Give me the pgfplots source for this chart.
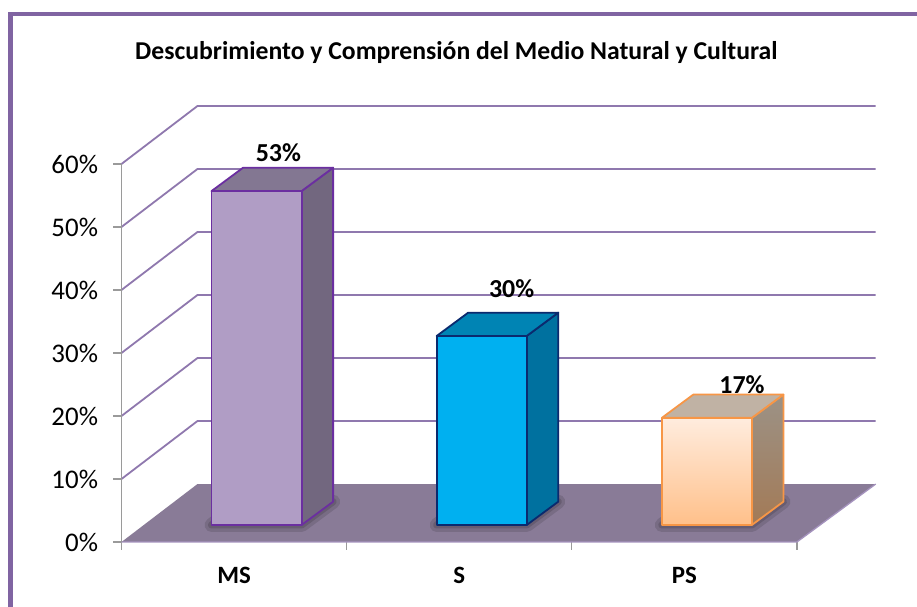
\documentclass[border=0pt]{standalone}
\usepackage{fontspec}
\setmainfont{Carlito}
\usepackage{pgfplots}
\pgfplotsset{compat=1.18}

\definecolor{wall}{HTML}{8F78AE}
\definecolor{floorc}{HTML}{897B97}
\definecolor{frame}{HTML}{8064A2}
\definecolor{axisgray}{HTML}{9A9A9A}
\definecolor{edgem}{HTML}{6B2FA0}
\definecolor{edges}{HTML}{0B2A6E}
\definecolor{edgep}{HTML}{F79646}

% center x, value, edge, front style, side style, top style
\newcommand{\threedbar}[6]{%
  \pgfmathsetmacro\xa{#1-0.2}%
  \pgfmathsetmacro\xb{#1+0.2}%
  \pgfmathsetmacro\xc{#1+0.2+0.14}%
  \pgfmathsetmacro\xd{#1-0.2+0.14}%
  \pgfmathsetmacro\yb{2.7}%
  \pgfmathsetmacro\ybb{2.7+3.7}%
  \pgfmathsetmacro\yt{2.7+#2}%
  \pgfmathsetmacro\ytt{2.7+#2+3.7}%
  \edef\tmp{%
    \noexpand\addplot[draw=black, opacity=0.12, line width=14bp, line join=round] coordinates {(\xa,\yb) (\xb,\yb) (\xc,\ybb) (\xd,\ybb)} --cycle;
    \noexpand\addplot[draw=black, opacity=0.14, line width=7bp, line join=round] coordinates {(\xa,\yb) (\xb,\yb) (\xc,\ybb) (\xd,\ybb)} --cycle;
    \noexpand\addplot[draw=#3, line width=1.8bp, line join=round, #5] coordinates {(\xb,\yb) (\xc,\ybb) (\xc,\ytt) (\xb,\yt)} --cycle;
    \noexpand\addplot[draw=#3, line width=1.8bp, line join=round, #6] coordinates {(\xa,\yt) (\xb,\yt) (\xc,\ytt) (\xd,\ytt)} --cycle;
    \noexpand\addplot[draw=#3, line width=1.8bp, line join=round, #4] coordinates {(\xa,\yb) (\xb,\yb) (\xb,\yt) (\xa,\yt)} --cycle;
  }\tmp
}

\begin{document}
\begin{tikzpicture}[x=1bp,y=1bp]
\useasboundingbox (-121.5,-65) rectangle (795.5,542);
\fill[white] (-121.5,-65) rectangle (795.5,542);
\draw[frame, line width=5bp] (-110.7,-65) -- (-110.7,527.5);
\draw[frame, line width=3.2bp] (-113.2,528) -- (795.5,528);
\begin{axis}[
    at={(0,0)}, anchor=south west,
    scale only axis,
    width=754.2bp, height=436bp,
    xmin=0, xmax=3.35, ymin=0, ymax=69.2,
    clip=false,
    axis line style={draw=none},
    tick align=outside,
    xtick pos=bottom, ytick pos=left,
    major tick length=8bp,
    tick style={axisgray, line width=1.3bp},
    xtick={0,1,2,3}, xticklabels={},
    extra x ticks={0.5,1.5,2.5},
    extra x tick labels={MS,S,PS},
    extra x tick style={major tick length=0pt,
        tick label style={font=\fontsize{25}{27}\selectfont\bfseries, yshift=-22bp}},
    ytick={0,10,20,30,40,50,60},
    yticklabel={\pgfmathprintnumber{\tick}\%},
    /pgf/number format/assume math mode=true,
    yticklabel style={font=\fontsize{27}{29}\selectfont, xshift=-12bp},
    title={Descubrimiento y Comprensión del Medio Natural y Cultural},
    title style={at={(0.444,1.108)}, anchor=center, font=\fontsize{25.8}{28}\selectfont\bfseries},
]
% back wall lines
\addplot[wall, line width=1.8bp] coordinates {(0,10) (0.3375,19.2) (3.35,19.2)};
\addplot[wall, line width=1.8bp] coordinates {(0,20) (0.3375,29.2) (3.35,29.2)};
\addplot[wall, line width=1.8bp] coordinates {(0,30) (0.3375,39.2) (3.35,39.2)};
\addplot[wall, line width=1.8bp] coordinates {(0,40) (0.3375,49.2) (3.35,49.2)};
\addplot[wall, line width=1.8bp] coordinates {(0,50) (0.3375,59.2) (3.35,59.2)};
\addplot[wall, line width=1.8bp] coordinates {(0,60) (0.3375,69.2) (3.35,69.2)};
% floor
\addplot[fill=floorc, draw=none] coordinates {(0,0) (0.3375,9.2) (3.35,9.2) (3,0)} --cycle;
\addplot[wall!80!white, line width=1.3bp] coordinates {(0,0) (3,0) (3.35,9.2)};
% value axis
\addplot[axisgray, line width=1.3bp] coordinates {(0,0) (0,60)};
% bars
\threedbar{0.6}{53}{edgem}{fill={rgb,255:red,176;green,157;blue,197}}{fill={rgb,255:red,114;green,103;blue,127}}{fill={rgb,255:red,131;green,119;blue,146}}
\threedbar{1.6}{30}{edges}{fill={rgb,255:red,0;green,176;blue,240}}{fill={rgb,255:red,0;green,113;blue,159}}{fill={rgb,255:red,0;green,132;blue,180}}
\threedbar{2.6}{17}{edgep}{top color={rgb,255:red,255;green,236;blue,222},bottom color={rgb,255:red,255;green,192;blue,138}}{top color={rgb,255:red,156;green,146;blue,134},bottom color={rgb,255:red,163;green,122;blue,86}}{fill={rgb,255:red,192;green,178;blue,164}}
% data labels
\addplot[draw=none, point meta=explicit symbolic,
    nodes near coords,
    every node near coord/.append style={anchor=center, font=\fontsize{26}{28}\selectfont\bfseries}]
    coordinates {(0.697,61.8)[53\%] (1.733,40.2)[30\%] (2.756,25)[17\%]};
\end{axis}
\end{tikzpicture}
\end{document}
